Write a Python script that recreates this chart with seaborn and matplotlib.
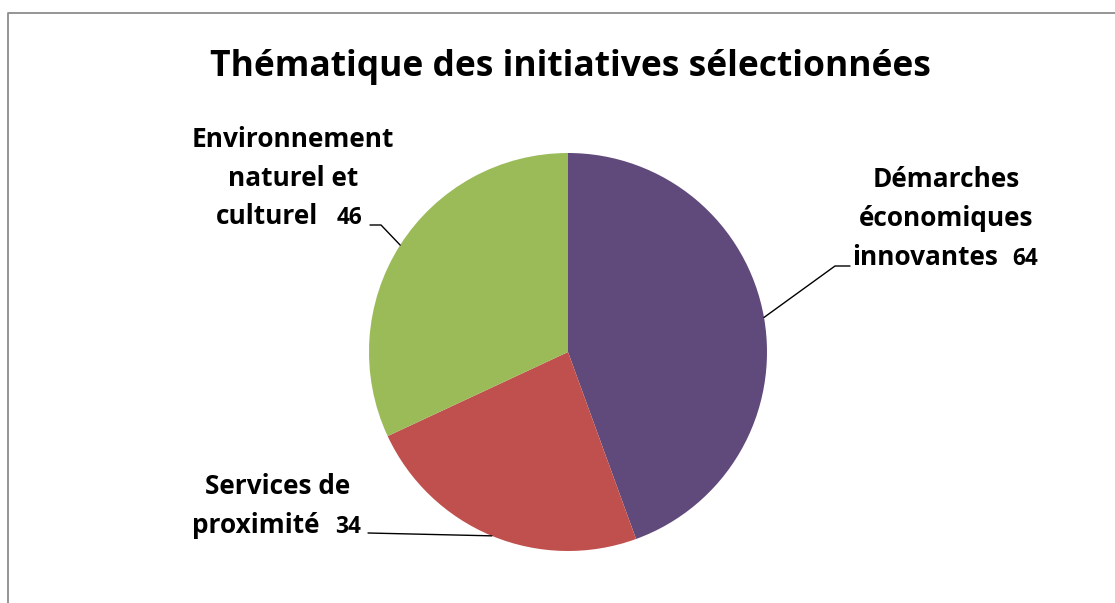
import numpy as np
import matplotlib
matplotlib.use("Agg")
import matplotlib.pyplot as plt
import seaborn as sns

# ---- data ----
categories = ["Démarches économiques innovantes", "Services de proximité",
              "Environnement naturel et culturel"]
values = [64, 34, 46]
colors = ["#604A7B", "#C0504D", "#9BBB59"]
title = "Thématique des initiatives sélectionnées"

sns.set_theme(style="white")
plt.rcParams["font.family"] = ["Open Sans", "DejaVu Sans"]

W, H = 1115, 603
fig = plt.figure(figsize=(W / 100, H / 100), dpi=100)
ax = fig.add_axes([0, 0, 1, 1])

def Y(y):
    return H - y

cx, cy, r = 568, Y(352), 199
wedges, _ = ax.pie(values, colors=colors, startangle=90, counterclock=False,
                   center=(cx, cy), radius=r, frame=True,
                   wedgeprops=dict(linewidth=0))
ax.set_xlim(0, W)
ax.set_ylim(0, H)
ax.set_aspect("equal")
ax.axis("off")

renderer = fig.canvas.get_renderer()

def fit(t, target_px):
    w = t.get_window_extent(renderer=renderer).width
    t.set_fontsize(t.get_fontsize() * target_px / w)

# border
ax.plot([8, 8, W + 5], [Y(H + 5), Y(13), Y(13)], color="#8C8C8C", lw=1.3,
        solid_capstyle="butt", clip_on=False)

# title
tt = ax.text(570, Y(76), title, ha="center", va="baseline", fontsize=24,
             fontweight="bold", color="black")
fit(tt, 720)

def mid_point(w):
    a = np.deg2rad((w.theta1 + w.theta2) / 2)
    return cx + r * np.cos(a), cy + r * np.sin(a)

# label layouts: (lines above, last-line name, center x, baselines, name right x, value left x)
layouts = [
    (["Démarches", "économiques"], "innovantes", 946, [187, 226, 265], 998, 1012),
    (["Services de"], "proximité", 278, [494, 533], 319, 335),
    (["Environnement", "naturel et"], "culturel", 293, [147, 186, 224], 318, 337),
]
# probe sizes for labels / values
probe = ax.text(0, 0, "Environnement", fontsize=18, fontweight="bold")
fit(probe, 203)
lab_fs = probe.get_fontsize()
probe.remove()
probe = ax.text(0, 0, "46", fontsize=15, fontweight="bold")
fit(probe, 26)
val_fs = probe.get_fontsize()
probe.remove()

for (lines, last, lx, bases, rx, vx), v in zip(layouts, values):
    for t, b in zip(lines, bases[:-1]):
        ax.text(lx, Y(b), t, ha="center", va="baseline", fontsize=lab_fs,
                fontweight="bold", color="black")
    ax.text(rx, Y(bases[-1]), last, ha="right", va="baseline", fontsize=lab_fs,
            fontweight="bold", color="black")
    ax.text(vx, Y(bases[-1]), str(v), ha="left", va="baseline", fontsize=val_fs,
            fontweight="bold", color="black")

# leader lines
px, py = mid_point(wedges[0])
ax.plot([px, 835, 850], [py, Y(266), Y(266)], color="black", lw=1)
px, py = mid_point(wedges[1])
ax.plot([368, px], [Y(533), py], color="black", lw=1)
px, py = mid_point(wedges[2])
ax.plot([370, 381, px], [Y(225), Y(225), py], color="black", lw=1)

fig.savefig("out.png", dpi=100)
